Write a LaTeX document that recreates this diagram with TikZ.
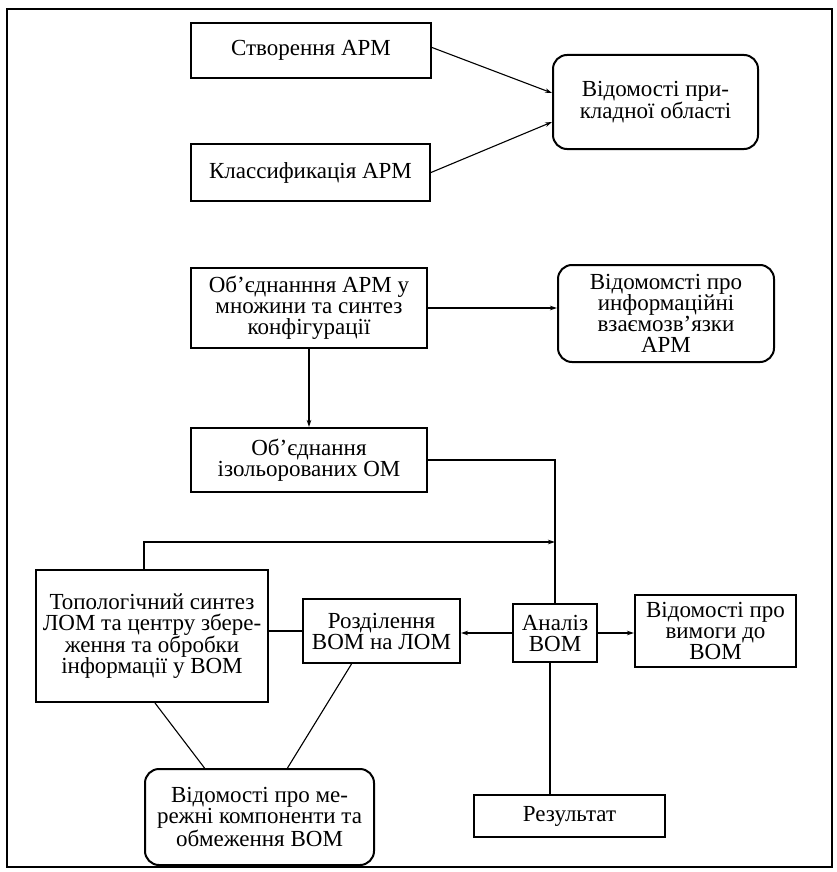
\documentclass[tikz,border=0pt]{standalone}
\usepackage{fontspec}
\setmainfont{Liberation Serif}
\usetikzlibrary{arrows.meta}
\tikzset{
  stage/.style={draw, line width=2pt, inner sep=0pt, align=center,
    font=\fontsize{23}{21}\selectfont},
  source/.style={stage, rounded corners=14pt},
  link/.style={line width=1.1pt},
  flow/.style={-{Stealth[length=7pt,width=4.5pt]}}
}
\begin{document}
\begin{tikzpicture}[x=1pt,y=-1pt]
      \useasboundingbox (0,0) rectangle (837,872);
      \draw[line width=1.8pt] (7,9) rectangle (832,867);
      \path
        (311,50.5) node[stage, minimum width=240pt, minimum height=55pt] (sozd){Створення АРМ}
        (310.5,172.5) node[stage, minimum width=239pt, minimum height=57pt] (klas){Классификація АРМ}
        (655.5,102) node[source, minimum width=205pt, minimum height=94pt] (prikl){Відомості при-\\кладної області}
        (309,308) node[stage, minimum width=236pt, minimum height=80pt] (obyed){Об’єднанння АРМ у\\множини та синтез\\конфігурації}
        (666,313.5) node[source, minimum width=216pt, minimum height=97pt] (vzaem){Відомомсті про\\информаційні\\взаємозв'язки\\АРМ}
        (309,460) node[stage, minimum width=236pt, minimum height=64pt] (izol){Об’єднання\\ізольорованих ОМ}
        (152,636) node[stage, minimum width=232pt, minimum height=132pt] (topol){Топологічний синтез\\ЛОМ та центру збере-\\ження та обробки\\інформації у ВОМ}
        (381.5,631) node[stage, minimum width=157pt, minimum height=64pt] (rozd){Розділення\\ВОМ на ЛОМ}
        (555,633) node[stage, minimum width=84pt, minimum height=58pt] (analiz){Аналіз\\ВОМ}
        (715.5,631) node[stage, minimum width=161pt, minimum height=72pt] (vymogy){Відомості про\\вимоги до\\ВОМ}
        (259.5,817) node[source, minimum width=229pt, minimum height=96pt] (merezh){Відомості про ме-\\режні компоненти та\\обмеження ВОМ}
        (569.5,816) node[stage, minimum width=191pt, minimum height=42pt] (rezult){Результат};
      \coordinate (merge) at (analiz.north |- 0,542);
      \begin{scope}[link]
        \draw[flow] ([yshift=3pt]sozd.east) to ([yshift=9pt]prikl.west);
        \draw[flow] (klas.east) to ([yshift=-20pt]prikl.west);
        \draw[flow] (obyed.east) to (obyed.east -| vzaem.west);
        \draw[flow] (obyed.south) to (izol.north);
        \draw (izol.east) -- (izol.east -| analiz.north) -- (analiz.north);
        \draw[flow] ([xshift=-8pt]topol.north) |- (merge);
        \draw (rozd.west) -- (rozd.west -| topol.east);
        \draw[flow] (analiz.west) -- (analiz.west -| rozd.east);
        \draw[flow] (analiz.east) -- (analiz.east -| vymogy.west);
        \draw ([xshift=3pt]topol.south) -- ([xshift=-55pt]merezh.north);
        \draw ([xshift=-30pt]rozd.south) -- ([xshift=28pt]merezh.north);
        \draw ([xshift=-5pt]analiz.south) -- ([xshift=-5pt]analiz.south |- rezult.north);
      \end{scope}
    \end{tikzpicture}
\end{document}
